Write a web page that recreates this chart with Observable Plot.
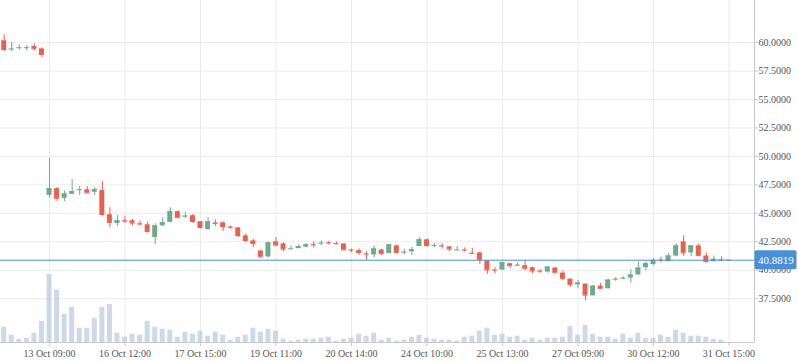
<!DOCTYPE html>
<html><head><meta charset="utf-8">
<script src="https://cdn.jsdelivr.net/npm/d3@7"></script>
<script src="https://cdn.jsdelivr.net/npm/@observablehq/plot@0.6"></script>
<style>
html,body{margin:0;padding:0;background:#fff;}
#chart{position:relative;width:798px;height:363px;overflow:hidden;}
#chart svg{position:absolute;left:0;top:0;}
</style></head><body><div id="chart"></div>
<script>
const open  = [60.16,59.40,59.53,59.53,59.66,59.45,46.58,47.17,46.32,46.67,47.04,47.06,46.85,47.00,44.88,44.11,44.37,44.35,44.10,43.99,42.87,43.90,44.20,45.14,44.71,44.79,44.26,43.58,44.16,44.17,43.80,43.73,43.02,42.58,41.70,41.17,42.49,42.31,41.86,41.90,42.02,42.27,42.36,42.41,42.35,42.31,41.79,41.72,41.44,41.34,41.78,41.46,42.14,41.57,41.63,42.08,42.67,42.16,42.15,42.05,41.75,41.79,41.50,41.52,40.81,40.03,40.02,40.57,40.42,40.40,40.22,39.94,39.84,40.19,39.75,39.22,38.72,38.78,37.75,38.60,38.37,39.19,39.27,39.31,39.58,40.22,40.49,40.88,40.75,41.25,42.49,41.52,42.14,41.25,40.75,40.94,40.89];
const high  = [60.69,60.04,59.80,59.74,59.89,59.54,49.82,47.26,46.97,47.97,47.35,47.35,47.26,47.79,45.49,44.79,44.70,44.46,44.32,44.23,44.08,44.61,45.49,45.23,45.05,44.90,44.26,44.61,44.43,44.23,43.90,43.73,43.17,42.73,41.70,42.49,42.87,42.43,42.14,42.23,42.34,42.49,42.58,42.55,42.49,42.31,41.85,41.87,41.63,42.14,41.85,42.23,42.23,41.85,42.02,42.84,42.76,42.37,42.34,42.05,42.08,41.96,41.93,41.58,40.81,40.22,40.75,40.64,40.61,40.84,40.28,40.04,40.28,40.25,39.93,39.22,39.11,38.78,38.66,38.84,39.20,39.37,39.43,40.02,40.72,40.70,41.02,41.17,41.46,42.34,43.02,42.14,42.31,41.52,41.25,41.17,40.89];
const low   = [59.21,59.21,59.34,59.25,59.30,58.68,46.35,46.05,46.02,46.67,46.58,46.76,46.58,44.73,43.73,43.84,44.11,43.88,43.88,43.26,42.25,43.84,44.20,44.61,44.55,44.11,43.64,43.49,43.84,43.40,43.61,42.87,42.43,41.99,41.08,41.10,42.14,41.61,41.85,41.90,41.99,41.96,42.17,42.23,42.23,41.78,41.55,41.28,40.87,41.10,41.28,41.46,41.43,41.34,41.28,42.08,42.02,41.99,41.85,41.63,41.75,41.61,41.48,40.52,39.64,39.69,39.96,40.13,40.34,39.96,39.66,39.73,39.73,39.78,39.11,38.52,38.37,37.31,37.75,38.37,38.37,39.02,39.16,38.87,39.58,39.96,40.40,40.66,40.75,41.17,41.19,41.19,41.28,40.64,40.75,40.79,40.88];
const close = [59.39,59.43,59.55,59.55,59.45,58.95,47.17,46.32,46.70,46.91,47.07,46.79,47.08,44.90,44.20,44.35,44.33,44.14,44.06,43.40,43.90,44.17,45.14,44.61,44.75,44.28,43.75,44.26,44.12,43.84,43.77,43.05,42.61,42.34,41.17,42.40,42.20,41.85,41.88,42.08,42.23,42.23,42.38,42.39,42.33,41.78,41.77,41.55,41.42,41.87,41.46,42.23,41.55,41.59,41.81,42.67,42.17,42.18,42.13,41.85,41.77,41.77,41.48,40.90,40.02,40.01,40.66,40.40,40.44,40.17,39.93,39.92,40.28,39.78,39.25,38.72,38.87,37.81,38.60,38.37,39.13,39.21,39.29,39.58,40.19,40.57,40.87,40.86,41.25,42.14,41.52,42.14,41.28,40.75,40.96,40.92,40.8819];
const volume = [15.3,7.3,3.3,4.3,9.3,21.3,68.3,52.3,28.3,35.3,14.3,14.3,24.3,35.3,38.3,9.3,5.3,8.3,7.3,21.3,15.3,13.3,12.3,5.3,10.3,8.3,11.3,6.3,10.3,7.3,2.3,5.3,7.3,14.3,10.3,13.3,11.3,3.3,1.3,2.3,3.3,3.3,4.3,5.3,1.3,3.3,4.3,8.3,6.3,9.3,2.3,4.3,1.3,2.3,5.3,7.3,4.3,3.3,2.3,2.3,1.3,5.3,6.3,11.3,14.3,7.3,8.3,5.3,6.3,2.3,4.3,2.3,4.3,4.3,5.3,16.3,7.3,17.3,8.3,5.3,5.3,3.3,8.3,4.3,9.3,4.3,4.3,7.3,5.3,12.3,9.3,6.3,6.3,5.3,3.3,2.3,0];
const tickIndex  = [6,16,26,36,46,56,66,76,86,96];
const tickLabels = ["13 Oct 09:00","16 Oct 12:00","17 Oct 15:00","19 Oct 11:00","20 Oct 14:00","24 Oct 10:00","25 Oct 13:00","27 Oct 09:00","30 Oct 12:00","31 Oct 15:00"];
const yTicks = [37.5,40,42.5,45,47.5,50,52.5,55,57.5,60];
const lastPrice = 40.8819;

const UP = "#6cab8d", DOWN = "#e9604f", BLUE = "#4a90d9";
const W = 798, H = 363;
const xDomain = [-0.49, 99.38];
const yDomain = [33.65, 63.70];
const half = 0.33;
const font = "'Liberation Serif', 'Times New Roman', serif";

const data = open.map((o, i) => ({
  i, open: o, high: high[i], low: low[i], close: close[i], volume: volume[i],
  dir: close[i] >= o ? "up" : "down"
}));

function priceTag(index, scales, values, dimensions, context) {
  const y = scales.y(lastPrice);
  const x0 = dimensions.width - dimensions.marginRight;
  const g = d3.create("svg:g");
  g.append("rect").attr("x", x0 + 0.5).attr("y", y - 9.5).attr("width", 42).attr("height", 19)
    .attr("rx", 2).attr("fill", BLUE);
  g.append("text").attr("x", x0 + 4).attr("y", y).attr("dy", "0.35em")
    .attr("text-anchor", "start")
    .attr("fill", "#fff").attr("font-size", 11).attr("font-family", font)
    .text(lastPrice.toFixed(4));
  return g.node();
}

const common = {
  width: W, height: H, marginLeft: 0, marginRight: 44, marginBottom: 21,
  style: {background: "transparent", fontFamily: font, fontSize: "10px", color: "#555"}
};

const pricePlot = Plot.plot({
  ...common,
  marginTop: 0,
  x: {type: "linear", domain: xDomain},
  y: {domain: yDomain},
  color: {domain: ["up", "down"], range: [UP, DOWN]},
  marks: [
    Plot.gridY(yTicks, {stroke: "#ebebeb", strokeOpacity: 1}),
    Plot.gridX(tickIndex, {stroke: "#ebebeb", strokeOpacity: 1}),
    Plot.ruleX(data, {x: "i", y1: "low", y2: "high", stroke: "dir"}),
    Plot.rect(data, {x1: d => d.i - half, x2: d => d.i + half, y1: "open", y2: "close", fill: "dir"}),
    Plot.ruleY(data, {y: "close", x1: d => d.i - half, x2: d => d.i + half, stroke: "dir"}),
    Plot.ruleY([lastPrice], {stroke: BLUE, strokeWidth: 1}),
    Plot.ruleY([yDomain[0]], {stroke: "#c8c8c8"}),
    Plot.ruleX([xDomain[1]], {stroke: "#c8c8c8"}),
    Plot.axisY(yTicks, {anchor: "right", tickSize: 3, tickPadding: 1, tickFormat: d => d.toFixed(4), stroke: "#c8c8c8", fill: "#555", fontSize: 10, label: null}),
    Plot.axisX(tickIndex, {anchor: "bottom", tickSize: 4, tickPadding: 3, tickFormat: d => tickLabels[tickIndex.indexOf(d)], stroke: "#c8c8c8", fill: "#555", fontSize: 10, label: null}),
    priceTag
  ]
});

const volPlot = Plot.plot({
  ...common,
  marginTop: 274,
  x: {type: "linear", domain: xDomain, axis: null},
  y: {domain: [0, d3.max(volume)], axis: null},
  marks: [
    Plot.rectY(data, {x1: d => d.i - half, x2: d => d.i + half, y: "volume", fill: "#acc0dc", fillOpacity: 0.6})
  ]
});

const c = document.getElementById("chart");
c.appendChild(pricePlot);
c.appendChild(volPlot);
</script>
</body></html>
